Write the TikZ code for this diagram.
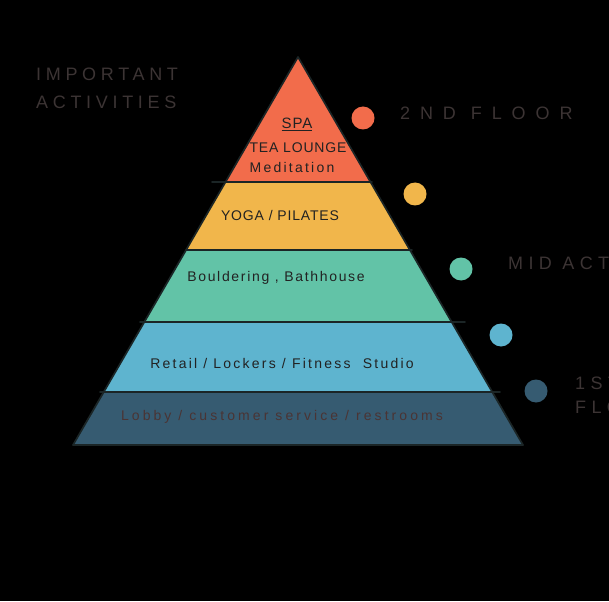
\documentclass[tikz,border=0pt]{standalone}
\usepackage{fontspec}
\newfontfamily\handfont[LetterSpace=6]{Liberation Sans}
\newfontfamily\widefont[LetterSpace=16]{Liberation Sans}
\newfontfamily\capsfont{Liberation Sans}
\usetikzlibrary{positioning, calc}

\definecolor{spaorange}{HTML}{F26C4B}
\definecolor{yogayellow}{HTML}{F1B64B}
\definecolor{boulderteal}{HTML}{62C3A7}
\definecolor{retailblue}{HTML}{5EB4CF}
\definecolor{lobbyblue}{HTML}{365B71}
\definecolor{inkline}{HTML}{1B2526}
\definecolor{ink}{HTML}{222222}
\definecolor{lobbyink}{HTML}{4A3434}
\definecolor{grayink}{HTML}{3C3434}

\begin{document}
\begin{tikzpicture}[
    x=1pt, y=-1pt,
    band_line/.style={line width=1.7pt, draw=inkline, line cap=round},
    dot/.style={circle, minimum size=23pt, inner sep=0pt},
    label/.style={font=\handfont\fontsize{14}{16}\selectfont, text=ink, inner sep=1pt},
    wide_label/.style={label, font=\widefont\fontsize{14}{16}\selectfont},
    floor/.style={font=\capsfont\fontsize{18}{24}\selectfont, text=grayink,
                  anchor=west, align=left, inner sep=0pt},
]

% ===================== CANVAS =====================
\useasboundingbox (0,0) rectangle (609,601);
\fill[black] (0,0) rectangle (609,601);

\coordinate (apex) at (298,57);
\coordinate (bl) at (73,445);
\coordinate (br) at (523,445);

% ===================== PYRAMID BANDS =====================
\begin{scope}
  \clip (apex) -- (bl) -- (br) -- cycle;
  \foreach \t/\b/\col in {57/182/spaorange, 182/250/yogayellow,
                          250/322/boulderteal, 322/392/retailblue,
                          392/446/lobbyblue} {
    \fill[\col] (0,\t) rectangle (609,\b);
  }
\end{scope}

% outline and dividers
\draw[band_line, line join=round] (bl) -- (apex) -- (br);
\draw[band_line] (bl) -- (br);
\foreach \y/\xa/\xb in {182/212/372, 250/186/412, 322/140/465, 392/100/500} {
  \draw[band_line] (\xa,\y) -- (\xb,\y);
}

% ===================== BAND LABELS =====================
\node[label, font=\handfont\fontsize{15}{16}\selectfont] (spa) at (297,124) {\underline{SPA}};
\node[label] (tea) at (298,148) {TEA LOUNGE};
\node[wide_label] (medit) at (292,167) {Meditation};
\node[label] (yoga) at (280,215) {YOGA / PILATES};
\node[label, font=\handfont\fontsize{14}{16}\selectfont\addfontfeature{LetterSpace=12}]
  (boulder) at (276,278) {Bouldering , Bathhouse};
\node[wide_label] (retail) at (282,363) {Retail / Lockers / Fitness \ Studio};
\node[wide_label, text=lobbyink, font=\widefont\fontsize{14}{16}\selectfont\addfontfeature{LetterSpace=22}]
  (lobby) at (282,417) {Lobby / customer service / restrooms};

% ===================== DOTS =====================
\foreach \n/\x/\y/\col in {1/363/118/spaorange, 2/415/194/yogayellow,
                           3/461/269/boulderteal, 4/501/335/retailblue,
                           5/536/391/lobbyblue} {
  \node[dot, fill=\col] (dot\n) at (\x,\y) {};
}

% ===================== SIDE NOTES =====================
\begin{scope}
  \clip (0,0) rectangle (609,601);
  \node[floor, font=\capsfont\fontsize{18}{28}\selectfont\addfontfeature{LetterSpace=26}]
    (title) at (36,88) {IMPORTANT\\ACTIVITIES};
  \node[floor, font=\capsfont\fontsize{18}{24}\selectfont\addfontfeature{LetterSpace=55}]
    (second) at (400,113) {2ND FLOOR};
  \node[floor, font=\capsfont\fontsize{18}{24}\selectfont\addfontfeature{LetterSpace=30}]
    (mid) at (508,263) {MID ACTIVITIES};
  \node[floor, font=\capsfont\fontsize{18}{24}\selectfont\addfontfeature{LetterSpace=30}]
    (first) at (575,395) {1ST\\FLOOR};
\end{scope}

\end{tikzpicture}
\end{document}
